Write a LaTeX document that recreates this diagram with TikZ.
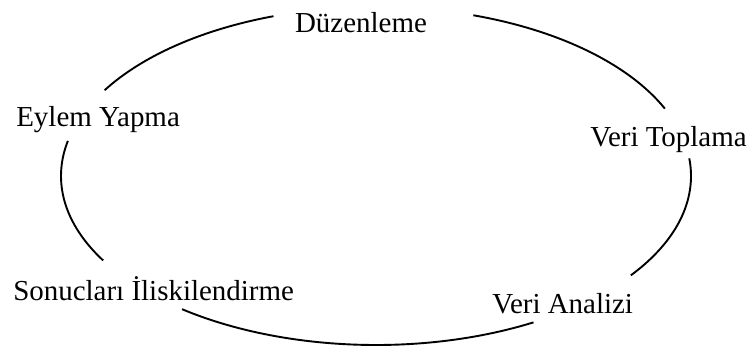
\documentclass[tikz,border=0pt]{standalone}
\usepackage{fontspec}
\setmainfont{Liberation Serif}
\usetikzlibrary{calc}

\begin{document}
\begin{tikzpicture}[asama/.style={inner sep=0pt, font=\fontsize{20.6}{24}\selectfont},
		halka/.style={line width=1.35pt}]
		\useasboundingbox (0,0) rectangle (18.8,8.675);
		\coordinate (merkez) at (9.4,4.275);
		
		\node[asama, anchor=base] (duzen) at (9.025,7.875) {Düzenleme};
		\node[asama, anchor=base west] (toplama) at (14.75,5.025) {Veri Toplama};
		\node[asama, anchor=base west] (analiz) at (12.3,0.85) {Veri Analizi};
		\node[asama, anchor=base west] (sonuc) at (0.325,1.175) {Sonucları İliskilendirme};
		\node[asama, anchor=base west] (eylem) at (0.4,5.525) {Eylem Yapma};
		
		\draw[halka] ($(merkez)+(72:7.875 and 4.225)$) arc[start angle=72, end angle=23.5, x radius=7.875, y radius=4.225];
		\draw[halka] ($(merkez)+(6:7.875 and 4.225)$) arc[start angle=6, end angle=-36, x radius=7.875, y radius=4.225];
		\draw[halka] ($(merkez)+(300:7.875 and 4.225)$) arc[start angle=300, end angle=232, x radius=7.875, y radius=4.225];
		\draw[halka] ($(merkez)+(210:7.875 and 4.225)$) arc[start angle=210, end angle=168, x radius=7.875, y radius=4.225];
		\draw[halka] ($(merkez)+(149.5:7.875 and 4.225)$) arc[start angle=149.5, end angle=109, x radius=7.875, y radius=4.225];
\end{tikzpicture}
\end{document}
